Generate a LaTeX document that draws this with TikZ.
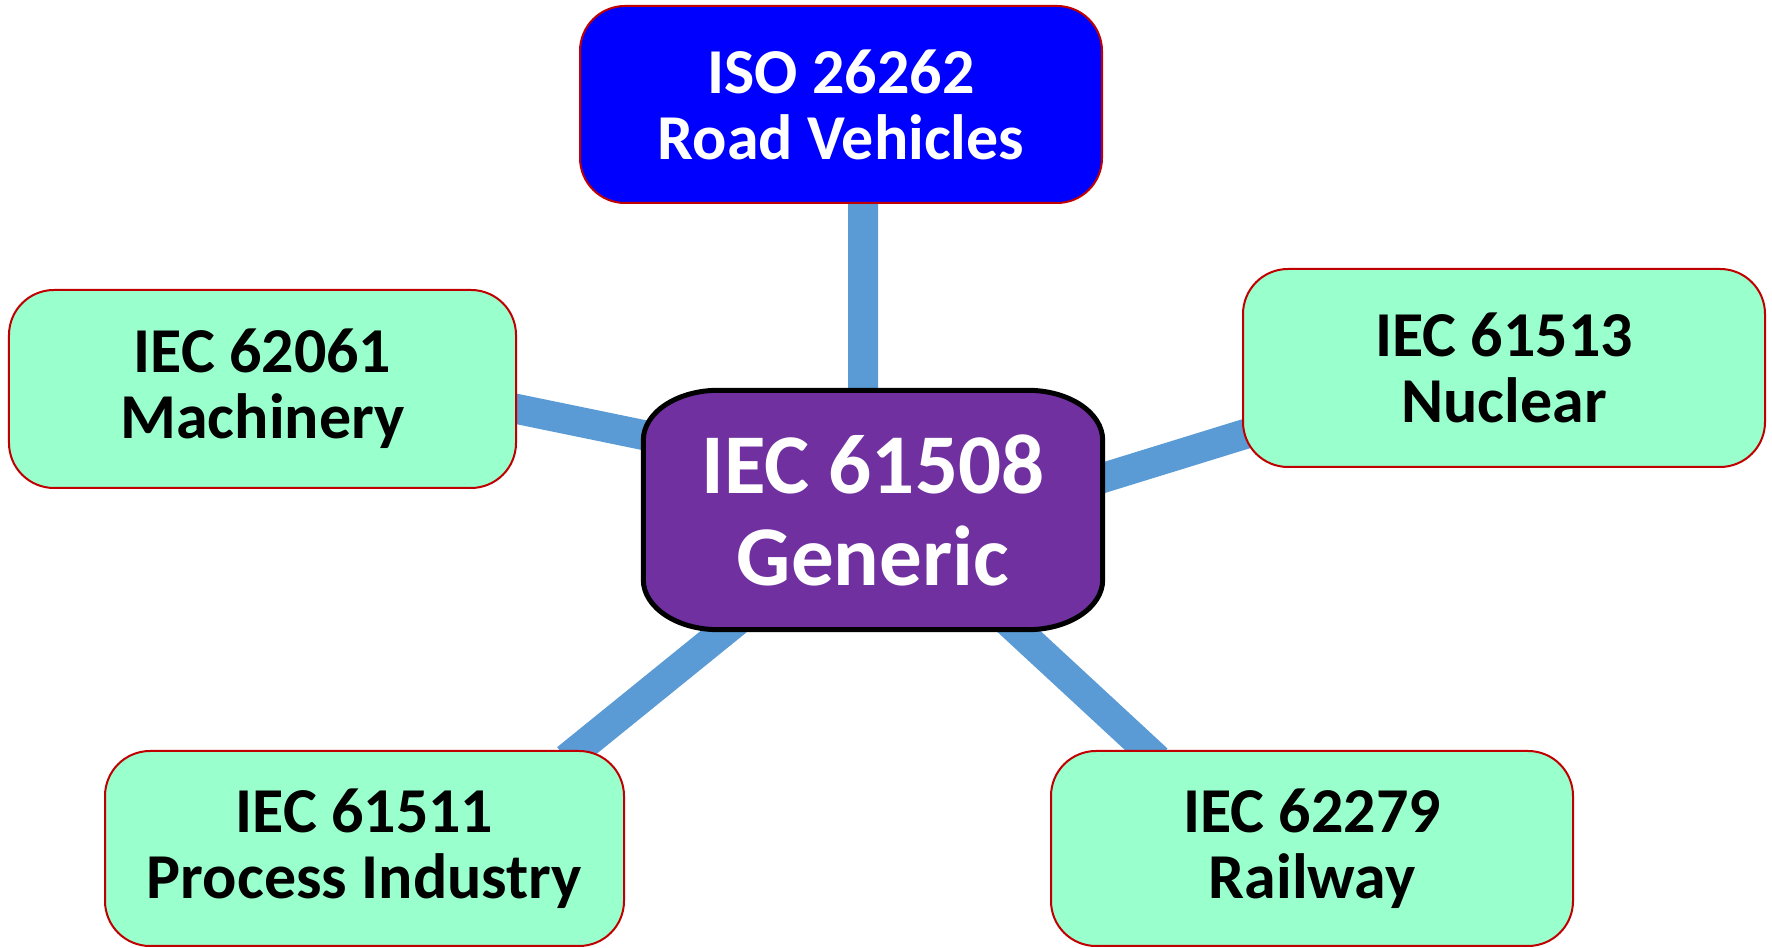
\documentclass[tikz,border=0pt]{standalone}
\usepackage{fontspec}
\setmainfont{Carlito}
\usetikzlibrary{backgrounds,calc}
\definecolor{linkblue}{HTML}{5B9BD5}
\definecolor{boxred}{HTML}{C00000}
\definecolor{mintfill}{HTML}{99FFCC}
\definecolor{royalfill}{HTML}{0000FF}
\definecolor{genpurple}{HTML}{7030A0}
\tikzset{
  stdbox/.style={draw=boxred, line width=0.02cm, rounded corners=0.45cm,
    fill=mintfill, text=black, align=center, inner sep=0pt,
    font=\fontsize{18.2}{18.8}\selectfont\bfseries},
  topbox/.style={stdbox, fill=royalfill, text=white},
  genbox/.style={draw=none, fill=none, text=white, align=center, inner sep=0pt,
    font=\fontsize{24.2}{26.2}\selectfont\bfseries},
  link/.style={draw=linkblue, line width=0.30cm, shorten <=-4pt, shorten >=-4pt},
}
\begin{document}
\begin{tikzpicture}
\useasboundingbox (0,0) rectangle (17.72,-9.48);

% standards boxes
\node[topbox, minimum width=5.22cm, minimum height=1.97cm] (iso) at (8.41,-1.045) {ISO 26262\\Road Vehicles};
\node[genbox, minimum width=4.58cm, minimum height=2.38cm] (ctr) at (8.73,-5.10) {IEC 61508\\Generic};
\node[stdbox, minimum width=5.07cm, minimum height=1.98cm] (mach) at (2.625,-3.89) {IEC 62061\\Machinery};
\node[stdbox, minimum width=5.22cm, minimum height=1.98cm] (nucl) at (15.04,-3.68) {IEC 61513\\Nuclear};
\node[stdbox, minimum width=5.19cm, minimum height=1.95cm] (proc) at (3.645,-8.485) {IEC 61511\\Process Industry};
\node[stdbox, minimum width=5.22cm, minimum height=1.95cm] (rail) at (13.12,-8.485) {IEC 62279\\Railway};

\begin{pgfonlayer}{background}
  % connectors from the generic standard to each sector standard
  \draw[link] ($(iso.south)+(0.22,0)$) -- ($(ctr.north)+(-0.10,0)$);
  \draw[link] ($(mach.east)+(0,-0.20)$) -- ($(ctr.west)+(0,0.75)$);
  \draw[link] ($(ctr.east)+(0,0.32)$) -- ($(nucl.west)+(0,-0.67)$);
  \draw[link] ($(ctr.south)+(-1.47,0)$) -- ($(proc.north)+(2.13,0)$);
  \draw[link] ($(ctr.south)+(1.44,0)$) -- ($(rail.north)+(-1.65,0)$);
  % generic box with elliptical corners
  \path[fill=genpurple, draw=black, line width=0.05cm]
    ($(ctr.north west)+(0.75,0)$) -- ($(ctr.north east)+(-0.75,0)$)
    arc[start angle=90, end angle=0, x radius=0.75, y radius=0.5]
    -- ($(ctr.south east)+(0,0.5)$)
    arc[start angle=0, end angle=-90, x radius=0.75, y radius=0.5]
    -- ($(ctr.south west)+(0.75,0)$)
    arc[start angle=270, end angle=180, x radius=0.75, y radius=0.5]
    -- ($(ctr.north west)+(0,-0.5)$)
    arc[start angle=180, end angle=90, x radius=0.75, y radius=0.5]
    -- cycle;
\end{pgfonlayer}
\end{tikzpicture}
\end{document}
